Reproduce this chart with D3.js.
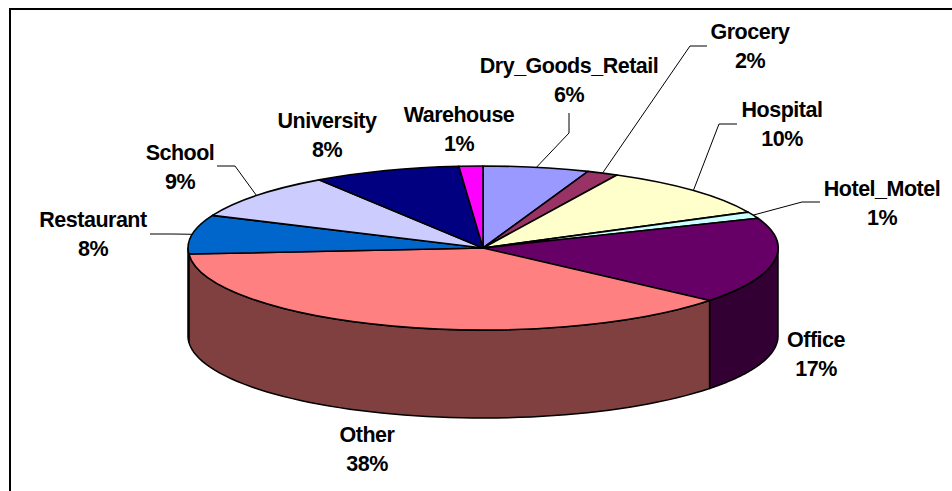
<!DOCTYPE html>
<html>
<head>
<meta charset="utf-8">
<script src="https://cdn.jsdelivr.net/npm/d3@7"></script>
<style>
  html, body { margin: 0; padding: 0; background: #fff; overflow: hidden; }
  text { font-family: "Liberation Sans", Arial, sans-serif; font-weight: bold; font-size: 21.5px; letter-spacing: -0.5px; fill: #000; }
</style>
</head>
<body>
<div id="chart"></div>
<script>
//  Slices, clockwise from 12 o'clock
const categories = ["Dry_Goods_Retail", "Grocery", "Hospital", "Hotel_Motel", "Office",
                    "Other", "Restaurant", "School", "University", "Warehouse"];
const shares     = [5.8, 1.7, 10.3, 1.3, 17.0, 37.8, 7.7, 9.1, 8.1, 1.3];
const percentLabels = ["6%", "2%", "10%", "1%", "17%", "38%", "8%", "9%", "8%", "1%"];
const topColors  = ["#9999FF", "#993366", "#FFFFCC", "#CCFFFF", "#660066",
                    "#FF8080", "#0066CC", "#CCCCFF", "#000080", "#FF00FF"];
const wallColors = ["#4D4D80", "#4D1A33", "#808066", "#668080", "#330033",
                    "#804040", "#003366", "#666680", "#000040", "#800080"];

//  Label placement: centre x, first baseline
const labelX = [569, 750, 782, 882, 816, 367, 93, 180, 327, 459];
const labelY = [73, 39, 117, 196, 347, 442, 227, 160, 128, 122];
//  Leader elbows [elbow, end]; null = no leader
const leaders = [
  [[569, 133], [569, 113]],
  [[690, 46], [707, 46]],
  [[719, 124], [737, 124]],
  [[802, 202], [820, 202]],
  null, null,
  [[172, 234], [150, 234]],
  [[235, 166], [217, 166]],
  null, null
];

const W = 952, H = 491;
const cx = 483, cy = 248, rx = 295, ry = 82, depth = 88;
const lineGap = 28.5;

const svg = d3.select("#chart").append("svg")
    .attr("width", W)
    .attr("height", H)
    .style("display", "block");

//  Frame runs off the right and bottom of the picture
svg.append("rect")
    .attr("x", 10).attr("y", 9)
    .attr("width", W).attr("height", H)
    .attr("fill", "#fff")
    .attr("stroke", "#000")
    .attr("stroke-width", 2);

const pie = d3.pie().sort(null).value(d => d.share);
const slices = pie(categories.map((name, i) => ({
  name, share: shares[i], pct: percentLabels[i],
  top: topColors[i], wall: wallColors[i],
  lx: labelX[i], ly: labelY[i], leader: leaders[i]
})));

const px = a => cx + rx * Math.sin(a);
const py = a => cy - ry * Math.cos(a);

//  Walls: only the front half of the rim is visible
const wall = d3.area()
    .x(px)
    .y0(py)
    .y1(a => py(a) + depth);

svg.append("g")
  .selectAll("path")
  .data(slices.filter(d => d.startAngle < 1.5 * Math.PI && d.endAngle > 0.5 * Math.PI))
  .join("path")
    .attr("d", d => {
      const a0 = Math.max(d.startAngle, 0.5 * Math.PI),
            a1 = Math.min(d.endAngle, 1.5 * Math.PI);
      return wall(d3.range(61).map(i => a0 + (a1 - a0) * i / 60)) + "Z";
    })
    .attr("fill", d => d.data.wall)
    .attr("stroke", "#000")
    .attr("stroke-width", 1.5)
    .attr("stroke-linejoin", "round");

//  Top face: unit arc squashed into the ellipse
const arc = d3.arc().innerRadius(0).outerRadius(1);
svg.append("g")
    .attr("transform", `translate(${cx},${cy}) scale(${rx},${ry})`)
  .selectAll("path")
  .data(slices)
  .join("path")
    .attr("d", arc)
    .attr("fill", d => d.data.top)
    .attr("stroke", "#000")
    .attr("stroke-width", 1.6)
    .attr("stroke-linejoin", "round")
    .attr("vector-effect", "non-scaling-stroke");

//  Leader lines start on the rim at each slice's mid angle
const leaderLine = d3.line();
svg.append("g")
  .selectAll("path")
  .data(slices.filter(d => d.data.leader))
  .join("path")
    .attr("d", d => {
      const mid = (d.startAngle + d.endAngle) / 2;
      return leaderLine([[px(mid), py(mid)], ...d.data.leader]);
    })
    .attr("fill", "none")
    .attr("stroke", "#000")
    .attr("stroke-width", 1);

//  Labels
const labels = svg.append("g")
  .selectAll("text")
  .data(slices)
  .join("text")
    .attr("text-anchor", "middle");
labels.append("tspan")
    .attr("x", d => d.data.lx).attr("y", d => d.data.ly)
    .text(d => d.data.name);
labels.append("tspan")
    .attr("x", d => d.data.lx).attr("y", d => d.data.ly + lineGap)
    .text(d => d.data.pct);
</script>
</body>
</html>
